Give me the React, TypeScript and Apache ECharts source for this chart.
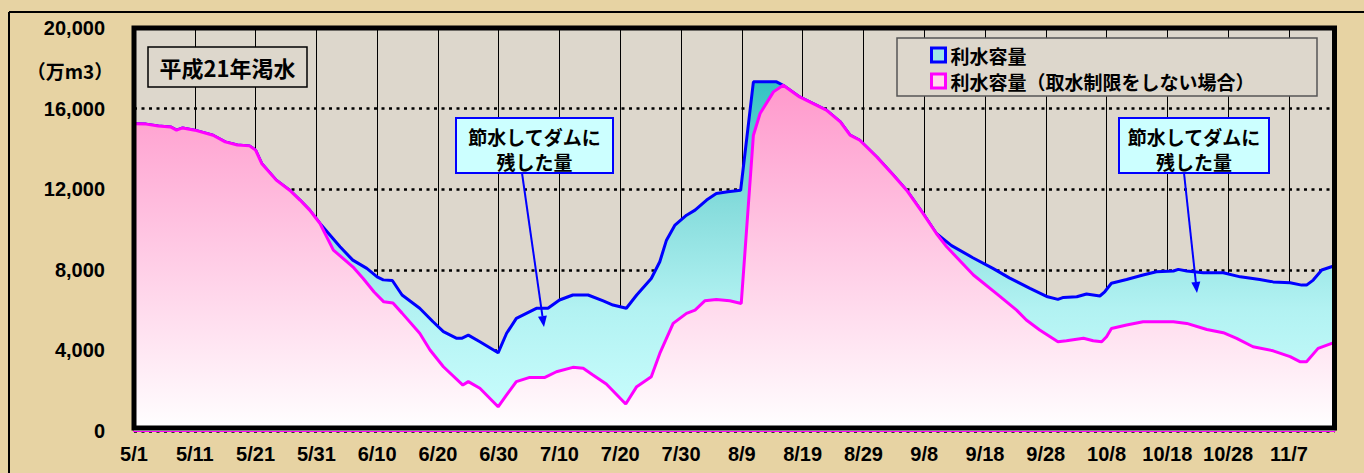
import React, { useEffect, useRef } from "react";
import * as echarts from "echarts";

// x positions are days counted from 5/1 (day 0)
const tickLabels = [
  "5/1", "5/11", "5/21", "5/31", "6/10", "6/20", "6/30", "7/10", "7/20", "7/30",
  "8/9", "8/19", "8/29", "9/8", "9/18", "9/28", "10/8", "10/18", "10/28", "11/7",
];

const seriesNames = ["利水容量", "利水容量（取水制限をしない場合）"];

// 利水容量 (actual storage), [day, 万m3]
const actualStorage: [number, number][] = [
  [0, 15250], [2, 15230], [4, 15140], [6, 15090], [7, 14930], [8, 15040], [10, 14930],
  [13, 14680], [15, 14350], [17, 14190], [19, 14150], [20, 13940], [21, 13280], [23.4, 12450],
  [25.6, 11950], [27.3, 11460], [28.9, 10960], [30.6, 10300], [33.9, 9140], [36, 8480],
  [38.3, 8070], [40, 7650], [41, 7500], [42.5, 7470], [44.1, 6750], [47, 6090], [49.2, 5420],
  [50.9, 4930], [53.1, 4600], [53.9, 4600], [55, 4760], [56.9, 4430], [59.9, 3880],
  [61.3, 4850], [62.9, 5590], [66.2, 6090], [68.1, 6090], [70, 6500], [72.2, 6750],
  [74.7, 6750], [77.2, 6460], [78.8, 6250], [81, 6090], [82.7, 6750], [85.1, 7570],
  [86.5, 8400], [87.6, 9470], [89, 10220], [90.9, 10710], [92.3, 10960], [94.2, 11460],
  [95.8, 11790], [97.7, 11870], [99.8, 11950], [101.9, 17330], [105.7, 17330], [106.8, 17160],
  [109.5, 16580], [113.9, 15920], [116.2, 15340], [117.8, 14680], [119.4, 14430], [122.2, 13600],
  [124.9, 12700], [127.1, 11950], [129.8, 10800], [132, 9800], [134.5, 9200], [138, 8600],
  [141.3, 8070], [144, 7600], [147.4, 7080], [150.3, 6660], [152, 6530], [152.9, 6630],
  [155.1, 6660], [156.7, 6800], [158.9, 6700], [159.7, 6910], [160.8, 7330], [163.3, 7520],
  [166, 7740], [168.2, 7900], [171, 7940], [171.8, 8020], [173.2, 7940], [175.9, 7850],
  [179.2, 7850], [182, 7650], [185.2, 7520], [187.4, 7400], [190.2, 7360], [192.1, 7240],
  [192.9, 7240], [194, 7490], [195.4, 7990], [197.5, 8200],
];

// 利水容量（取水制限をしない場合）, [day, 万m3]
const unrestrictedStorage: [number, number][] = [
  [0, 15250], [2, 15230], [4, 15140], [6, 15090], [7, 14930], [8, 15040], [10, 14930],
  [13, 14680], [15, 14350], [17, 14190], [19, 14150], [20, 13940], [21, 13280], [23.4, 12450],
  [25.6, 11950], [27.3, 11460], [28.9, 10960], [30.6, 10300], [32.8, 8980], [36, 8150],
  [37.7, 7570], [39.5, 6900], [41.1, 6410], [42.6, 6350], [44.1, 5850], [47, 4850],
  [48.7, 4020], [50.9, 3190], [54.1, 2280], [55, 2450], [56.9, 2120], [59.9, 1200],
  [61.3, 1790], [62.9, 2450], [65.1, 2660], [67.6, 2660], [69.5, 2940], [72.2, 3160],
  [73.9, 3110], [75.5, 2780], [77.7, 2330], [80.9, 1340], [82.7, 2200], [85.1, 2690],
  [86.5, 3850], [88.7, 5340], [90.9, 5840], [92.3, 6000], [93.9, 6460], [95.8, 6530],
  [98, 6460], [99.9, 6330], [101.9, 14680], [103, 15760], [105.2, 16830], [106.8, 17160],
  [109.5, 16580], [113.9, 15920], [116.2, 15340], [117.8, 14680], [119.4, 14430], [122.2, 13600],
  [124.9, 12700], [127.1, 11950], [129.8, 10800], [132, 9800], [133.7, 9140], [138.1, 7740],
  [142.2, 6740], [145.2, 6000], [146.8, 5510], [149, 5010], [152, 4430], [153.4, 4480],
  [156.2, 4600], [157.8, 4480], [159.2, 4430], [160, 4680], [160.8, 5090], [163.3, 5260],
  [166, 5420], [171, 5420], [173.2, 5340], [176.5, 5040], [179.2, 4880], [181.4, 4600],
  [184.1, 4180], [187.4, 3980], [190.2, 3690], [191.8, 3440], [192.9, 3440], [194.8, 4100],
  [197.5, 4400],
];

const titleText = "平成21年渇水";
const unitText = "（万m3）";
const noteLines = ["節水してダムに", "残した量"];

const numFont = "'Liberation Sans', Arial, sans-serif";
const cjkFont = "'Noto Sans CJK JP', 'Noto Sans', sans-serif";
const plotBg = "#ddd7cc";

function arrow(x1: number, y1: number, x2: number, y2: number) {
  const dx = x2 - x1;
  const dy = y2 - y1;
  const len = Math.sqrt(dx * dx + dy * dy);
  const ux = dx / len;
  const uy = dy / len;
  const hl = 11;
  const hw = 4.5;
  const bx = x2 - ux * hl;
  const by = y2 - uy * hl;
  return [
    {
      type: "line",
      z: 20,
      shape: { x1, y1, x2: bx, y2: by },
      style: { stroke: "#0000ff", lineWidth: 2 },
    },
    {
      type: "polygon",
      z: 20,
      shape: {
        points: [
          [x2, y2],
          [bx - uy * hw, by + ux * hw],
          [bx + uy * hw, by - ux * hw],
        ],
      },
      style: { fill: "#0000ff" },
    },
  ];
}

function noteBox(x: number, y: number, w: number, h: number) {
  const cx = x + w / 2;
  return [
    {
      type: "rect",
      z: 20,
      shape: { x, y, width: w, height: h },
      style: { fill: "#ccffff", stroke: "#0000ff", lineWidth: 2 },
    },
    ...noteLines.map((t, i) => ({
      type: "text",
      z: 21,
      style: {
        text: t,
        x: cx,
        y: y + 18 + i * 25,
        align: "center",
        verticalAlign: "middle",
        textAlign: "center",
        textVerticalAlign: "middle",
        fill: "#000",
        font: `bold 19px ${cjkFont}`,
      },
    })),
  ];
}

export default function App() {
  const ref = useRef<HTMLDivElement>(null);

  useEffect(() => {
    if (!ref.current) return;
    const chart = echarts.init(ref.current, null, { renderer: "svg" });

    const option: any = {
      animation: false,
      backgroundColor: "#e7d3a3",
      grid: {
        show: true,
        left: 134,
        top: 28,
        right: 29.5,
        bottom: 42,
        backgroundColor: plotBg,
        borderWidth: 0,
      },
      legend: {
        orient: "vertical",
        left: 930,
        top: 45.5,
        padding: 0,
        itemWidth: 14,
        itemHeight: 14,
        itemGap: 7,
        selectedMode: false,
        textStyle: {
          fontFamily: cjkFont,
          fontWeight: "bold",
          fontSize: 19,
          lineHeight: 19,
          color: "#000",
        },
        data: [
          {
            name: seriesNames[0],
            icon: "rect",
            itemStyle: { color: "#9ee6e6", borderColor: "#0000ff", borderWidth: 3 },
          },
          {
            name: seriesNames[1],
            icon: "rect",
            itemStyle: { color: "#ffd6ea", borderColor: "#ff00ff", borderWidth: 3 },
          },
        ],
      },
      xAxis: {
        type: "value",
        min: 0,
        max: 197.5,
        interval: 10,
        axisLine: { show: true, onZero: false, lineStyle: { color: "#ff00ff", width: 2 } },
        axisTick: { show: false },
        axisLabel: {
          margin: 13,
          showMaxLabel: false,
          color: "#000",
          fontFamily: numFont,
          fontWeight: "bold",
          fontSize: 20,
          formatter: (v: number) => {
            const i = Math.round(v / 10);
            return Math.abs(v - i * 10) < 1e-6 && tickLabels[i] ? tickLabels[i] : "";
          },
        },
        splitLine: { show: true, lineStyle: { color: "#000", width: 1, type: "solid" } },
      },
      yAxis: {
        type: "value",
        min: 0,
        max: 20000,
        interval: 4000,
        axisLine: { show: false },
        axisTick: { show: false },
        axisLabel: {
          margin: 29,
          color: "#000",
          fontFamily: numFont,
          fontWeight: "bold",
          fontSize: 20,
          formatter: (v: number) => v.toLocaleString("en-US"),
        },
        splitLine: { show: true, lineStyle: { color: "#000", width: 2.5, type: [3, 4.5] } },
      },
      series: [
        {
          name: seriesNames[0],
          type: "line",
          data: actualStorage,
          symbol: "none",
          showSymbol: false,
          z: 2,
          lineStyle: { color: "#0000ff", width: 3 },
          itemStyle: { color: "#0000ff" },
          areaStyle: {
            opacity: 1,
            color: new echarts.graphic.LinearGradient(0, 0, 0, 1, [
              { offset: 0, color: "#33c3c3" },
              { offset: 0.35, color: "#86dcdc" },
              { offset: 0.65, color: "#b2f2f2" },
              { offset: 1, color: "#ccffff" },
            ]),
          },
        },
        {
          name: seriesNames[1],
          type: "line",
          data: unrestrictedStorage,
          symbol: "none",
          showSymbol: false,
          z: 3,
          lineStyle: { color: "#ff00ff", width: 3 },
          itemStyle: { color: "#ff00ff" },
          areaStyle: {
            opacity: 1,
            color: new echarts.graphic.LinearGradient(0, 0, 0, 1, [
              { offset: 0, color: "#ff99cc" },
              { offset: 1, color: "#ffffff" },
            ]),
          },
        },
      ],
      graphic: {
        elements: [
          // outer frame
          { type: "line", z: 20, shape: { x1: 9, y1: 12, x2: 1400, y2: 12 }, style: { stroke: "#000", lineWidth: 2 } },
          { type: "line", z: 20, shape: { x1: 9, y1: 12, x2: 9, y2: 500 }, style: { stroke: "#000", lineWidth: 2 } },
          // plot frame
          {
            type: "rect",
            z: 20,
            shape: { x: 134, y: 28, width: 1200.5, height: 400 },
            style: { fill: "none", stroke: "#000", lineWidth: 5 },
          },
          // unit
          {
            type: "text",
            z: 21,
            style: {
              text: unitText,
              x: 70,
              y: 70,
              align: "center",
              verticalAlign: "middle",
              textAlign: "center",
              textVerticalAlign: "middle",
              fill: "#000",
              font: `bold 19px ${cjkFont}`,
            },
          },
          // title box
          {
            type: "rect",
            z: 20,
            shape: { x: 148, y: 47, width: 159, height: 40 },
            style: { fill: plotBg, stroke: "#000", lineWidth: 1.5 },
          },
          {
            type: "text",
            z: 21,
            style: {
              text: titleText,
              x: 227.5,
              y: 67,
              align: "center",
              verticalAlign: "middle",
              textAlign: "center",
              textVerticalAlign: "middle",
              fill: "#000",
              font: `bold 22px ${cjkFont}`,
            },
          },
          // legend box
          {
            type: "rect",
            z: 3,
            shape: { x: 897, y: 38, width: 420, height: 58 },
            style: { fill: plotBg, stroke: "#555", lineWidth: 1.5 },
          },
          ...noteBox(456, 118, 157, 55),
          ...noteBox(1119, 118, 150, 55),
          ...arrow(522, 173, 544, 327),
          ...arrow(1184, 173, 1197, 293),
        ],
      },
    };

    chart.setOption(option);
    return () => chart.dispose();
  }, []);

  return (
    <div
      ref={ref}
      style={{ position: "fixed", left: 0, top: 0, width: 1364, height: 473 }}
    />
  );
}
